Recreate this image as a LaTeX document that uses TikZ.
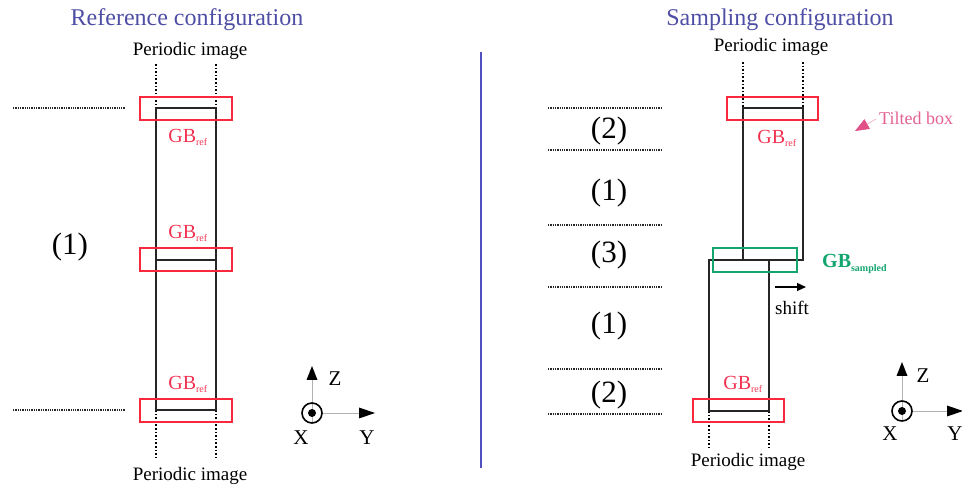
\documentclass[tikz,border=0pt]{standalone}
\usepackage{fontspec}
\setmainfont{Liberation Serif}
\usetikzlibrary{arrows.meta}
\definecolor{titleblue}{RGB}{78,78,165}
\definecolor{gbred}{RGB}{240,50,80}
\definecolor{boxred}{RGB}{250,40,60}
\definecolor{gbgreen}{RGB}{20,165,110}
\definecolor{tiltpink}{RGB}{225,80,135}
\definecolor{divblue}{RGB}{80,80,190}
\tikzset{
  title/.style={text=titleblue, font=\fontsize{24}{24}\selectfont, inner sep=0pt},
  pimg/.style={font=\fontsize{19}{19}\selectfont, inner sep=0pt},
  gblabel/.style={text=gbred, font=\fontsize{20}{20}\selectfont, inner sep=0pt},
  layer/.style={font=\fontsize{31}{31}\selectfont, inner sep=0pt},
  axlabel/.style={font=\fontsize{21}{21}\selectfont, inner sep=0pt},
  cell/.style={draw=black!85, line width=1.6pt},
  gbbox/.style={draw=boxred, line width=1.3pt},
  sampbox/.style={draw=gbgreen, line width=1.3pt},
  pdots/.style={black, line width=1.6pt, dotted},
  hdots/.style={black!85, line width=1.3pt, densely dotted},
  axline/.style={black!30, line width=0.6pt},
  axtip/.style={fill=black},
}
\begin{document}
\begin{tikzpicture}[x=1pt,y=-1pt]
\useasboundingbox (0,0) rectangle (962,486);
% titles
\node[title] (t1) at (187,20) {Reference configuration};
\node[title] (t2) at (780,20) {Sampling configuration};
% divider
\coordinate (d1) at (481,52);
\coordinate (d2) at (481,468);
\draw[divblue, line width=1.2pt] (d1) -- (d2);

% ===== left panel =====
\node[pimg] (p1) at (190,51) {Periodic image};
\node[pimg] (p2) at (190,476) {Periodic image};
\coordinate (La) at (156,108); \coordinate (Lb) at (216,108);
\coordinate (Lc) at (156,410); \coordinate (Ld) at (216,410);
\coordinate (La0) at (156,64); \coordinate (Lb0) at (216,64);
\coordinate (Lc0) at (156,460); \coordinate (Ld0) at (216,460);
\draw[pdots] (La0) -- (La);
\draw[pdots] (Lb0) -- (Lb);
\draw[pdots] (Lc) -- (Lc0);
\draw[pdots] (Ld) -- (Ld0);
\draw[cell] (La) rectangle (Ld);
\coordinate (Lm1) at (156,260); \coordinate (Lm2) at (216,260);
\draw[cell] (Lm1) -- (Lm2);
\draw[gbbox] (140,97) rectangle (232,120);
\draw[gbbox] (140,248) rectangle (232,271);
\draw[gbbox] (140,399) rectangle (232,422);
\node[gblabel] (g1) at (188,137) {GB$_{\scriptscriptstyle\mathrm{ref}}$};
\node[gblabel] (g2) at (188,233) {GB$_{\scriptscriptstyle\mathrm{ref}}$};
\node[gblabel] (g3) at (188,384) {GB$_{\scriptscriptstyle\mathrm{ref}}$};
\coordinate (h1a) at (13,108); \coordinate (h1b) at (125,108);
\coordinate (h2a) at (13,410); \coordinate (h2b) at (125,410);
\draw[hdots] (h1a) -- (h1b);
\draw[hdots] (h2a) -- (h2b);
\node[layer] (l1) at (70,247) {(1)};
% axes left
\coordinate (ax1) at (312,413);
\coordinate (az1m) at (312,380);
\coordinate (ay1m) at (359,413);
\draw[axline] ([yshift=-10pt]ax1) -- (az1m);
\draw[axline] ([xshift=10pt]ax1) -- (ay1m);
\fill[axtip] (312,366) -- (306.5,380) -- (317.5,380) -- cycle;
\fill[axtip] (375,413) -- (359,407.5) -- (359,418.5) -- cycle;
\draw[black, line width=1.6pt] (ax1) circle (10);
\fill[black] (ax1) circle (4);
\node[axlabel] (zl1) at (335,379) {Z};
\node[axlabel] (yl1) at (367,438) {Y};
\node[axlabel] (xl1) at (301,438) {X};

% ===== right panel =====
\node[pimg] (p3) at (771,47) {Periodic image};
\node[pimg] (p4) at (748,462) {Periodic image};
\coordinate (Ra) at (743,108); \coordinate (Rb) at (803,260);
\coordinate (Rc) at (709,260); \coordinate (Rd) at (769,411);
\coordinate (Ra0) at (743,62); \coordinate (Rb0) at (803,62);
\coordinate (Rb1) at (803,108);
\coordinate (Rc1) at (709,411);
\coordinate (Rc0) at (709,448); \coordinate (Rd0) at (769,448);
\draw[pdots] (Ra0) -- (Ra);
\draw[pdots] (Rb0) -- (Rb1);
\draw[pdots] (Rc1) -- (Rc0);
\draw[pdots] (Rd) -- (Rd0);
\draw[cell] (Ra) rectangle (Rb);
\draw[cell] (Rc) rectangle (Rd);
\draw[gbbox] (727,97) rectangle (818,120);
\draw[sampbox] (713,248) rectangle (797,272);
\draw[gbbox] (693,399) rectangle (784,422);
\node[gblabel] (g4) at (777,138) {GB$_{\scriptscriptstyle\mathrm{ref}}$};
\node[gblabel] (g5) at (743,384) {GB$_{\scriptscriptstyle\mathrm{ref}}$};
\node[text=gbgreen, font=\fontsize{20}{20}\selectfont\bfseries, inner sep=0pt, anchor=west] (gs) at (822,264) {GB$_{\scriptscriptstyle\mathbf{sampled}}$};
% shift
\coordinate (s1) at (775,287); \coordinate (s2) at (806,287);
\draw[black, line width=1.3pt, -{Triangle[length=9pt,width=8pt]}] (s1) -- (s2);
\node[pimg, anchor=west] (sh) at (775,308) {shift};
% layers
\foreach \y/\n in {108/a,150/b,225/c,287/d,369/e,414/f}{
  \coordinate (r\n1) at (548,\y); \coordinate (r\n2) at (662,\y);
  \draw[hdots] (r\n1) -- (r\n2);
}
\node[layer] (l2) at (609,131) {(2)};
\node[layer] (l3) at (609,193) {(1)};
\node[layer] (l4) at (609,255) {(3)};
\node[layer] (l5) at (609,326) {(1)};
\node[layer] (l6) at (609,395) {(2)};
% tilted box
\node[text=tiltpink!90, font=\fontsize{18}{18}\selectfont, inner sep=0pt, anchor=west] (tb) at (879,118) {Tilted box};
\coordinate (ta) at (876,119);
\coordinate (tb0) at (855,131);
\draw[tiltpink!60, line width=0.5pt, -{Triangle[length=14pt,width=11pt,color=tiltpink,fill=tiltpink]}] (ta) -- (tb0);
% axes right
\coordinate (ax2) at (902,411);
\coordinate (az2m) at (902,376);
\coordinate (ay2m) at (947,411);
\draw[axline] ([yshift=-10pt]ax2) -- (az2m);
\draw[axline] ([xshift=10pt]ax2) -- (ay2m);
\fill[axtip] (902,362) -- (896.5,376) -- (907.5,376) -- cycle;
\fill[axtip] (963,411) -- (947,405.5) -- (947,416.5) -- cycle;
\draw[black, line width=1.6pt] (ax2) circle (10);
\fill[black] (ax2) circle (4);
\node[axlabel] (zl2) at (923,376) {Z};
\node[axlabel] (yl2) at (955,434) {Y};
\node[axlabel] (xl2) at (890,434) {X};
\end{tikzpicture}
\end{document}
